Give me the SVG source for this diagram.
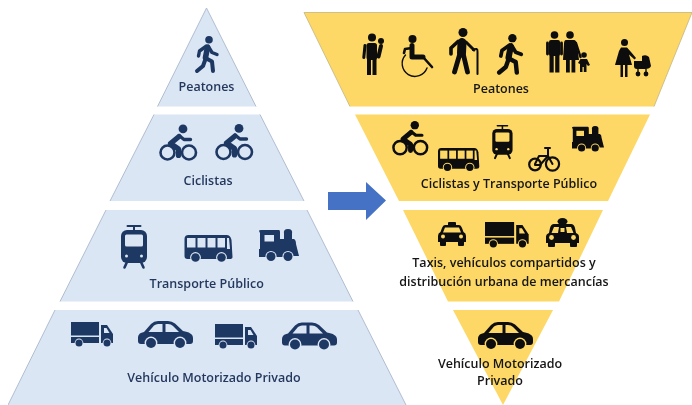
<svg xmlns="http://www.w3.org/2000/svg" xmlns:xlink="http://www.w3.org/1999/xlink" width="692" height="405" viewBox="0 0 692 405">
<style>
text{font-family:"Open Sans","Liberation Sans",sans-serif;font-weight:600;font-size:12.5px;text-anchor:middle}
.blue{color:#1f3864;fill:#dbe6f4}
.blue text{fill:#24375c}
.yel{color:#0c0c0c;fill:#fdd866}
.yel text{fill:#141414}
.d{fill:currentColor}
.l{stroke:currentColor;fill:none;stroke-linecap:round;stroke-linejoin:round}
.e{fill:none;stroke:#a9b8cc;stroke-width:.9}
.ey{fill:none;stroke:#c9bb85;stroke-width:.9}
</style>
<defs>
<filter id="soft" x="0" y="0" width="100%" height="100%"><feGaussianBlur stdDeviation="0.5"/></filter>
<g id="walker">
<circle class="d" cx="14" cy="3.800" r="3.800"/>
<path class="l" stroke-width="5.600" d="M12.500 11.500 L10.500 21.500"/>
<path class="l" stroke-width="3.400" d="M13 10 L17 16.500 L22 18.500 M11.500 10 L4.500 15 L3.500 20"/>
<path class="l" stroke-width="4" d="M10.500 22 L17 25.500 L18 35 M10.500 23 L8 30 L2 35"/>
</g>
<g id="cyclist">
<circle class="l" cx="8.500" cy="28" r="7" stroke-width="2.600"/>
<circle class="l" cx="30" cy="28" r="7" stroke-width="2.600"/>
<circle class="d" cx="24" cy="4.400" r="4.400"/>
<path class="l" stroke-width="5.200" d="M20 12 L11.500 19 L19.500 24.500 L19.500 31"/>
<path class="l" stroke-width="3.400" d="M20 11 L25 15 L31.500 15"/>
</g>
<g id="tram">
<path class="l" stroke-width="2" d="M7.500 1 H20.500 M14 1 V6"/>
<rect class="d" x="1" y="5" width="26" height="33" rx="6"/>
<rect x="5" y="9.500" width="18" height="12" rx="1.500"/>
<circle cx="6.500" cy="31" r="1.500"/><circle cx="21.500" cy="31" r="1.500"/>
<path class="l" stroke-width="2.600" d="M7 37 L4.500 42.500 M21 37 L23.500 42.500"/>
</g>
<g id="bus">
<path class="d" d="M4 0 H42 Q46 0 47 5 L48 22 Q48 24 45 24 H3 Q0 24 0 21 V4 Q0 0 4 0Z"/>
<rect x="2.500" y="3" width="8.500" height="9.500"/><rect x="13" y="3" width="8" height="9.500"/><rect x="23" y="3" width="8" height="9.500"/><rect x="33" y="3" width="7.500" height="9.500"/>
<path d="M42.500 3 H44.500 L45.500 14 H42.500Z"/>
<circle cx="11" cy="22.500" r="5.400"/><circle class="d" cx="11" cy="22.500" r="4.300"/>
<circle cx="37" cy="22.500" r="5.400"/><circle class="d" cx="37" cy="22.500" r="4.300"/>
</g>
<g id="train">
<path class="d" d="M0 2 Q0 1 2 1 H20 Q21 1 21 3 V10 H25 V5 Q24 0 29 0 Q34 0 33 5 V10 H35 Q37 11 37 15 L40 27 H30 V28 H0 V20 H1 V4 Z"/>
<rect x="5.500" y="6" width="9.500" height="6.500"/>
<circle cx="12" cy="27.500" r="5.600"/><circle class="d" cx="12" cy="27.500" r="4.500"/>
<circle cx="29" cy="27.500" r="5.600"/><circle class="d" cx="29" cy="27.500" r="4.500"/>
</g>
<g id="truck">
<rect class="d" x="0" y="0" width="28" height="13.500"/>
<rect class="d" x="0" y="15" width="28" height="6"/>
<path class="d" d="M30 3 H36 L42 12 V21 H30Z"/>
<path d="M33 6 H35.500 L38.500 11 H33Z"/>
<circle cx="8" cy="21" r="4.400"/><circle class="d" cx="8" cy="21" r="3.500"/>
<circle cx="36" cy="21" r="4.400"/><circle class="d" cx="36" cy="21" r="3.500"/>
</g>
<g id="car">
<path class="d" d="M0 18 C0 14 1 12 6 11 L13 3 Q16 0 20 0 H30 Q34 0 37 2.500 L45 10 C51 11 55 13 55 17 V20 Q55 23 52 23 H3 Q0 23 0 20Z"/>
<path d="M10.500 11 L16 4.500 Q18 3 20 3 H24.500 V11Z"/><path d="M27.500 3 H30 Q33 3 35 5 L41 11 H27.500Z"/>
<circle cx="13" cy="22" r="6.400"/><circle class="d" cx="13" cy="22" r="5"/>
<circle cx="42" cy="22" r="6.400"/><circle class="d" cx="42" cy="22" r="5"/>
</g>
<g id="taxi">
<rect class="d" x="10" y="0" width="8" height="4" rx="1"/>
<path class="d" d="M7 3 H21 Q23 3 24 6 L25.500 10 Q28 11 28 14 V20 H0 V14 Q0 11 2.500 10 L4 6 Q5 3 7 3Z"/>
<path d="M7 5.500 H21 L23 10.500 H5Z"/>
<circle cx="5" cy="14.500" r="2"/><circle cx="23" cy="14.500" r="2"/>
<rect class="d" x="2" y="19" width="6" height="5" rx="1"/><rect class="d" x="20" y="19" width="6" height="5" rx="1"/>
</g>
<g id="taxi2">
<ellipse class="d" cx="16.500" cy="3.500" rx="5" ry="3.500"/>
<path class="d" d="M8 6 H25 Q28 6 29 10 L30 15 Q33 16 33 19 V25 H0 V19 Q0 16 3 15 L4 10 Q5 6 8 6Z"/>
<path d="M8 9 H13 L12 15 H5.500Z"/><path d="M20 9 H25 L27.500 15 H21Z"/><rect x="14.500" y="10" width="4" height="4"/>
<circle cx="5.500" cy="19.500" r="2.400"/><circle cx="27.500" cy="19.500" r="2.400"/>
<rect class="d" x="2" y="24" width="7" height="5" rx="1"/><rect class="d" x="24" y="24" width="7" height="5" rx="1"/>
</g>
<g id="parent">
<circle class="d" cx="10" cy="4" r="4"/>
<circle class="d" cx="19" cy="7.500" r="3"/>
<rect class="d" x="4.500" y="9.500" width="10.500" height="17" rx="2.500"/>
<rect class="d" x="5" y="24" width="4" height="17.500"/><rect class="d" x="10.500" y="24" width="4" height="17.500"/>
<path class="l" stroke-width="3" d="M3 12 L1.800 24"/>
<path class="l" stroke-width="4" d="M19 12.500 L16.500 23"/>
</g>
<g id="wheelchair">
<circle class="d" cx="10.500" cy="4" r="4"/>
<path class="l" stroke-width="5" d="M10 10.500 V22 H21"/>
<path class="l" stroke-width="2.600" d="M21 22 L30 32"/>
<path class="l" stroke-width="2.600" d="M10 13 L3 14 L2 18"/>
<path class="l" stroke-width="1.400" d="M3.500 20 A12.800 12.800 0 1 0 25 33"/>
</g>
<g id="elder">
<circle class="d" cx="15" cy="4.500" r="4.500"/>
<path class="l" stroke-width="9" d="M14 14.500 L13.500 25"/>
<path class="l" stroke-width="4.800" d="M11.500 27 L6.500 44 M15.500 27 L19.500 44"/>
<path class="l" stroke-width="3.600" d="M10 13.500 L3 20 L3 26"/>
<path class="l" stroke-width="3" d="M18 14 L26 22"/>
<path class="l" stroke-width="2" d="M25 22 Q30 19 29.500 24 V46"/>
</g>
<g id="family">
<circle class="d" cx="8.500" cy="4" r="3.800"/>
<rect class="d" x="3" y="9" width="11" height="16" rx="2"/>
<path class="l" stroke-width="2.800" d="M1.500 12 L1.500 23 M15.500 12 L15.500 23"/>
<rect class="d" x="3.500" y="22" width="4.200" height="19.500"/><rect class="d" x="9.200" y="22" width="4.200" height="19.500"/>
<circle class="d" cx="24" cy="4" r="3.800"/>
<path class="d" d="M20 9 H28 Q30 9 31 13 L33 29 H17 L18 13 Q18 9 20 9Z"/>
<rect class="d" x="20" y="28" width="3.800" height="13.500"/><rect class="d" x="25.500" y="28" width="3.800" height="13.500"/>
<path class="l" stroke-width="2.400" d="M30 12 L34.500 26"/>
<circle class="d" cx="38" cy="24" r="2.800"/>
<path class="d" d="M34.500 28 H41 L44 34 L42 35 L40.500 33 V41 H37.800 V36 H36.500 V41 H34 V33 L32 32Z"/>
</g>
<g id="stroller">
<circle class="d" cx="9.500" cy="3.500" r="3.500"/>
<path class="d" d="M6 8.500 H12 L16 13 L21 19 L19.500 20.500 L14 15.500 L17 26 H12.500 V38 H10 V26 H8 V38 H5.500 V26 H0 L4 12Z"/>
<path class="d" d="M19 22 H27 L27 17 Q31 15 34 18 L36 27 Q35 30 30 30 H22 Q19 30 19 27Z"/>
<circle class="d" cx="23" cy="35" r="2.400"/><circle class="d" cx="31" cy="35" r="2.400"/>
<path class="l" stroke-width="1.400" d="M23 30 V33 M31 30 V33"/>
</g>
<g id="bike">
<circle class="l" cx="7" cy="17.500" r="5.800" stroke-width="2.200"/>
<circle class="l" cx="24.500" cy="17" r="6.600" stroke-width="2.200"/>
<path class="l" stroke-width="2" d="M7 17 L11 9 H20 L24.500 17 M17 1 H22 M20 1 L20 9 L12 18 H7"/>
</g>
</defs>
<rect width="692" height="405" fill="#ffffff"/>
<g filter="url(#soft)">
<g id="connectors">
<path id="shift-arrow" fill="#4472c4" d="M328 192 H366 V182 L386 200.500 L366 220 V210 H328Z"/>
</g>
<g class="blue">
<g id="left-peatones">
<path d="M206.500 8 L256 106.500 H157.500Z"/>
<path class="e" d="M157.500 106.500 L206.500 8 L256 106.500"/>
<use href="#walker" x="195" y="36"/>
<text x="206.500" y="91">Peatones</text>
</g>
<g id="left-ciclistas">
<path d="M154 114.500 H260 L304 201 H110Z"/>
<path class="e" d="M110 201 L154 114.500 M260 114.500 L304 201"/>
<use href="#cyclist" x="159" y="124.500"/>
<use href="#cyclist" x="215" y="124"/>
<text x="208" y="184.500">Ciclistas</text>
</g>
<g id="left-transporte">
<path d="M106 210 H307 L353 301.500 H60Z"/>
<path class="e" d="M60 301.500 L106 210 M307 210 L353 301.500"/>
<use href="#tram" x="120" y="225"/>
<use href="#bus" x="184.500" y="235"/>
<use href="#train" x="259" y="229"/>
<text x="206.700" y="288">Transporte Público</text>
</g>
<g id="left-privado">
<path d="M55 310 H358 L406 405 H8Z"/>
<path class="e" d="M8 405 L55 310 M358 310 L406 405"/>
<use href="#truck" x="71" y="322"/>
<use href="#car" x="138" y="321"/>
<use href="#truck" x="215" y="324"/>
<use href="#car" x="282" y="322.500"/>
<text x="214" y="382">Vehículo Motorizado Privado</text>
</g>
</g>
<g class="yel">
<g id="right-peatones">
<path d="M304 12.500 H692 L654 106.500 H350Z"/>
<path class="ey" d="M350 106.500 L304 12.500 H692 L654 106.500"/>
<use href="#parent" x="362" y="33.500"/>
<use href="#wheelchair" x="402" y="35"/>
<use href="#elder" x="448" y="28"/>
<use href="#walker" transform="translate(497 34) scale(1.100)"/>
<use href="#family" x="546" y="31"/>
<use href="#stroller" x="615" y="39"/>
<text x="501" y="93">Peatones</text>
</g>
<g id="right-ciclistas-transporte">
<path d="M355 114.500 H650 L608 201 H399Z"/>
<use href="#cyclist" transform="translate(392 121) scale(.95)"/>
<use href="#bus" transform="translate(438 148) scale(.86)"/>
<use href="#tram" transform="translate(491.500 125) scale(.78)"/>
<use href="#bike" transform="translate(528 147)"/>
<use href="#train" transform="translate(572 126) scale(.8)"/>
<text x="509" y="188">Ciclistas y Transporte Público</text>
</g>
<g id="right-taxis">
<path d="M403 210 H603 L559 301.500 H448Z"/>
<use href="#taxi" x="438" y="222"/>
<use href="#truck" transform="translate(485 222) scale(1.040)"/>
<use href="#taxi2" x="546" y="218"/>
<text x="504" y="267">Taxis, vehículos compartidos y</text>
<text x="504" y="286">distribución urbana de mercancías</text>
</g>
<g id="right-privado">
<path d="M453 310 H553 L503 405Z"/>
<use href="#car" x="478" y="322"/>
<text x="500" y="368">Vehículo Motorizado</text>
<text x="500" y="385">Privado</text>
</g>
</g>
</g>
</svg>
